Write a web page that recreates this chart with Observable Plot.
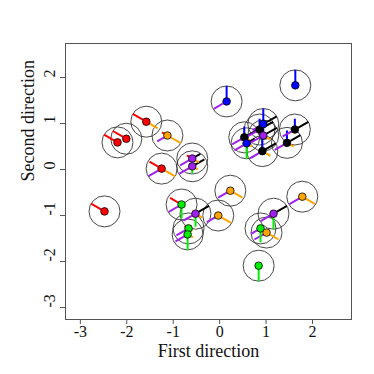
<!DOCTYPE html>
<html><head><meta charset="utf-8">
<script src="https://cdn.jsdelivr.net/npm/d3@7"></script>
<script src="https://cdn.jsdelivr.net/npm/@observablehq/plot@0.6"></script>
<style>body{margin:0;background:#fff}</style>
</head><body><div id="chart"></div>
<script>
// point positions and class
const xs = [1.63, 0.15, -1.58, -1.125, -2.20, -2.01, -1.25, -0.59, -0.59, -2.48, -0.82, -0.52, -0.67, -0.69, 0.23, -0.03, 1.78, 1.16, 0.88, 1.01, 0.84, 0.53, 0.58, 0.86, 0.92, 0.94, 0.94, 1.62, 1.45];
const ys = [1.83, 1.48, 1.04, 0.74, 0.59, 0.67, 0.02, 0.24, 0.07, -0.91, -0.76, -0.96, -1.28, -1.41, -0.46, -1.00, -0.59, -0.96, -1.28, -1.37, -2.09, 0.70, 0.57, 0.87, 0.40, 0.99, 0.74, 0.87, 0.58];
const classes = ["blue","blue","red","orange","red","red","red","purple","purple","red","green","purple","green","green","orange","orange","orange","purple","green","orange","green","black","blue","black","black","blue","purple","black","black"];
// segment lengths (fraction of glyph radius) per direction
const segRed    = [0,0,1,0.4,1,1,0.9,0.4,0,1,0.85,0,0.3,0,0,0,0,0,0,0,0,0,0,0,0,0,0,0,0];
const segBlack  = [0,0,0,0,0,0,0,0.6,0.9,0,0,1,0,0,0.25,0,0,1,0,0,0,1,0.6,1,1,1,1,1,1];
const segBlue   = [1,1,0,0,0,0,0,0,0,0,0,0,0,0,0,0,0,0,0,0,0,0.7,0.3,0.7,0.9,1,0.6,0.7,0.8];
const segPurple = [0,0.95,0,0.75,0,0,1,0.9,0.95,0,0.95,0.9,0.9,0.9,0.9,0.85,0.95,0.95,0.7,0.9,0,0.9,0.9,0.9,0.9,0.8,1,0.9,0.9];
const segGreen  = [0,0,0,0,0,0,0,0,0.45,0,0.9,0.85,0.6,1,0,0,0,1,0.9,0,1,0,1,0,0,0,0,0,0];
const segOrange = [0,0,0.85,1,0,0,1,0.5,0.4,0,0,0.5,0.3,0.4,0.9,0.95,0.95,0,0,0.9,0,0.4,0.4,0,0.6,0,0.5,0,0.5];
const xTicks = [-3,-2,-1,0,1,2];
const yTicks = [-3,-2,-1,0,1,2];

const palette = {red:"#FF0000", black:"#000000", blue:"#0000FF", purple:"#A020F0", green:"#00EE00", orange:"#FFA500"};
const angles = {red:150, black:30, blue:90, purple:210, green:270, orange:330};
const Rpx = 15.5, Rdata = Rpx / 46.2;

const points = xs.map((x,i)=>({x, y: ys[i], cls: classes[i]}));
const segSets = {red: segRed, black: segBlack, blue: segBlue, purple: segPurple, green: segGreen, orange: segOrange};
const segs = [];
for (const [k, arr] of Object.entries(segSets)) {
  arr.forEach((v,i)=>{ if (v>0) {
    const a = angles[k]*Math.PI/180;
    segs.push({x1: xs[i], y1: ys[i], x2: xs[i] + v*Rdata*Math.cos(a), y2: ys[i] + v*Rdata*Math.sin(a), c: palette[k]});
  }});
}

const font = "'Liberation Serif', 'Times New Roman', serif";
const chart = Plot.plot({
  width: 374, height: 374,
  marginLeft: 65, marginRight: 23, marginTop: 43, marginBottom: 55,
  x: {domain: [-3.32, 2.84]},
  y: {domain: [-3.26, 2.74]},
  color: {type: "identity"},
  style: {fontFamily: font, background: "#fff"},
  marks: [
    Plot.frame({stroke: "#555"}),
    Plot.axisX({ticks: xTicks, tickSize: 5, tickPadding: 1, fontSize: 16, tickFormat: d => String(d), label: null, stroke: "#555", fill: "#111"}),
    Plot.axisY({ticks: yTicks, tickSize: 5, tickFormat: () => "", label: null, stroke: "#555"}),
    Plot.text(yTicks, {y: d => d, text: d => String(d), frameAnchor: "left", dx: -16, rotate: -90, fontSize: 16, fill: "#111"}),
    Plot.text(["First direction"], {frameAnchor: "bottom", dy: 37, text: d => d, fontSize: 18, fill: "#111"}),
    Plot.text(["Second direction"], {frameAnchor: "left", dx: -37, rotate: -90, text: d => d, fontSize: 18, fill: "#111"}),
    Plot.dot(points, {x: "x", y: "y", r: Rpx, stroke: "#333", strokeWidth: 0.9, fill: "none"}),
    Plot.link(segs, {x1: "x1", y1: "y1", x2: "x2", y2: "y2", stroke: "c", strokeWidth: 2}),
    Plot.dot(points, {x: "x", y: "y", r: 3.8, fill: d => palette[d.cls], stroke: "#000", strokeWidth: 0.8})
  ]
});
document.getElementById("chart").appendChild(chart);
</script>
</body></html>
